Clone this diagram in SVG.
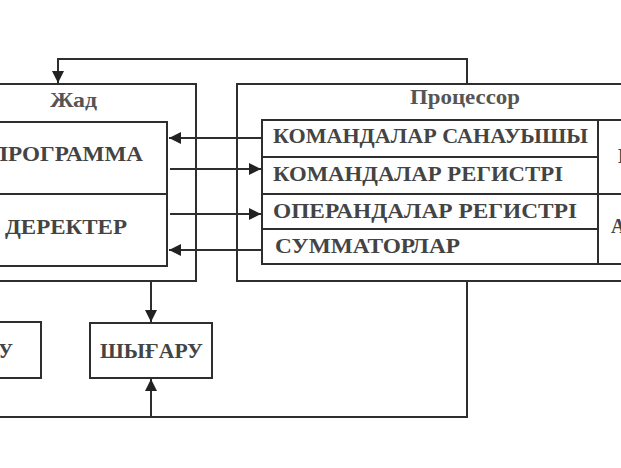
<svg xmlns="http://www.w3.org/2000/svg" width="621" height="468" viewBox="0 0 621 468">
<defs>
<style>
.box{fill:none;stroke:#2e2e2e;stroke-width:2}
.ln{fill:none;stroke:#2e2e2e;stroke-width:2}
.t{font-family:"Liberation Serif","DejaVu Serif",serif;font-weight:bold;font-size:20px;fill:#444}
.h{font-family:"Liberation Serif","DejaVu Serif",serif;font-weight:bold;font-size:21px;fill:#555}
</style>
<marker id="ah" viewBox="0 0 10 10" refX="10" refY="5" markerWidth="14" markerHeight="12" markerUnits="userSpaceOnUse" orient="auto">
<path d="M0,0 L10,5 L0,10 z" fill="#222"/>
</marker>
</defs>
<rect width="621" height="468" fill="#fff"/>

<g id="zhad">
<rect class="box" x="-10" y="84" width="206" height="197"/>
<text class="h" x="50" y="107" textLength="47" lengthAdjust="spacingAndGlyphs">Жад</text>
</g>
<g id="programma">
<rect class="box" x="-10" y="122" width="177" height="72"/>
<text class="t" x="-10" y="161" textLength="153" lengthAdjust="spacingAndGlyphs" style="font-size:21px">ПРОГРАММА</text>
</g>
<g id="derekter">
<rect class="box" x="-10" y="194" width="177" height="72"/>
<text class="t" x="5" y="234" textLength="122" lengthAdjust="spacingAndGlyphs" style="font-size:21px">ДЕРЕКТЕР</text>
</g>

<g id="processor">
<rect class="box" x="237" y="84" width="400" height="197"/>
<text class="h" x="410" y="104" textLength="110" lengthAdjust="spacingAndGlyphs">Процессор</text>
</g>
<g id="kom-sanau">
<rect class="box" x="262" y="120" width="336" height="37"/>
<text class="t" x="273" y="143" textLength="315" lengthAdjust="spacingAndGlyphs">КОМАНДАЛАР САНАУЫШЫ</text>
</g>
<g id="kom-reg">
<rect class="box" x="262" y="157" width="336" height="37"/>
<text class="t" x="273" y="181" textLength="290" lengthAdjust="spacingAndGlyphs">КОМАНДАЛАР РЕГИСТРІ</text>
</g>
<g id="op-reg">
<rect class="box" x="262" y="194" width="336" height="35"/>
<text class="t" x="273" y="218" textLength="304" lengthAdjust="spacingAndGlyphs">ОПЕРАНДАЛАР РЕГИСТРІ</text>
</g>
<g id="summator">
<rect class="box" x="262" y="229" width="336" height="35"/>
<text class="t" x="275" y="253" textLength="185" lengthAdjust="spacingAndGlyphs">СУММАТОРЛАР</text>
</g>
<g id="bq">
<rect class="box" x="598" y="120" width="60" height="74"/>
<text class="t" x="618" y="163">БҚ</text>
</g>
<g id="alq">
<rect class="box" x="598" y="194" width="60" height="70"/>
<text class="t" x="611" y="233">АЛҚ</text>
</g>

<g id="engizu">
<rect class="box" x="-81" y="322" width="122" height="56"/>
<text class="t" x="13" y="358" text-anchor="end">ЕНГІЗУ</text>
</g>
<g id="shygaru">
<rect class="box" x="90" y="323" width="122" height="55"/>
<text class="t" x="100" y="358" textLength="103" lengthAdjust="spacingAndGlyphs">ШЫҒАРУ</text>
</g>

<g id="connectors">
<path class="ln" d="M467,84 V59 H58 V83" marker-end="url(#ah)"/>
<path class="ln" d="M262,138 H169" marker-end="url(#ah)"/>
<path class="ln" d="M170,169 H261" marker-end="url(#ah)"/>
<path class="ln" d="M170,214 H261" marker-end="url(#ah)"/>
<path class="ln" d="M262,250 H169" marker-end="url(#ah)"/>
<path class="ln" d="M151,281 V322" marker-end="url(#ah)"/>
<path class="ln" d="M467,281 V417 H-10"/>
<path class="ln" d="M151,417 V379" marker-end="url(#ah)"/>
</g>
</svg>
